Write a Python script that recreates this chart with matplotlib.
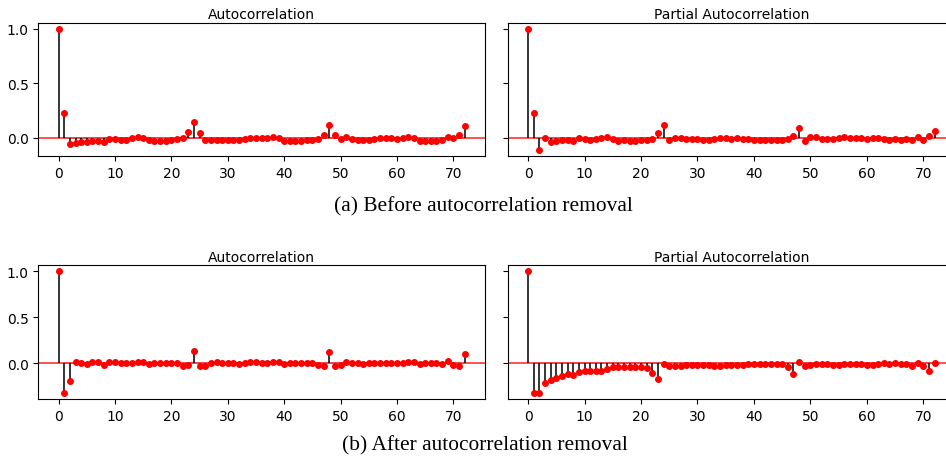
import matplotlib
matplotlib.use("Agg")
import matplotlib.pyplot as plt
import numpy as np

lags = list(range(73))

top_acf = [1.0, 0.225, -0.058, -0.043, -0.04, -0.04, -0.03, -0.025, -0.034, -0.01,
           -0.006, -0.015, -0.015, -0.003, 0.01, 0.0, -0.02, -0.027, -0.027, -0.03,
           -0.02, -0.012, -0.003, 0.052, 0.146, 0.043, -0.015, -0.015, -0.015, -0.018,
           -0.018, -0.021, -0.023, -0.012, 0.0, 0.003, -0.003, 0.0, 0.006, -0.003,
           -0.024, -0.027, -0.027, -0.027, -0.021, -0.015, -0.006, 0.027, 0.122, 0.027,
           -0.006, 0.006, -0.009, -0.021, -0.021, -0.018, -0.006, 0.0, 0.0, 0.0,
           -0.006, 0.003, 0.012, -0.003, -0.024, -0.024, -0.027, -0.024, -0.021, 0.006,
           -0.003, 0.027, 0.11]

top_pacf = [1.0, 0.225, -0.11, -0.003, -0.04, -0.027, -0.02, -0.02, -0.03, 0.0,
            -0.012, -0.015, -0.012, -0.003, 0.01, -0.009, -0.024, -0.021, -0.024, -0.027,
            -0.018, -0.015, -0.009, 0.046, 0.122, -0.02, 0.0, -0.003, -0.006, -0.009,
            -0.012, -0.015, -0.015, -0.009, -0.003, -0.003, -0.009, -0.003, -0.006, -0.012,
            -0.021, -0.018, -0.021, -0.018, -0.015, -0.015, -0.009, 0.021, 0.088, -0.03,
            0.012, 0.009, -0.006, -0.009, -0.009, -0.003, 0.006, -0.003, -0.003, -0.003,
            -0.009, 0.0, 0.003, -0.006, -0.015, -0.006, -0.015, -0.009, -0.015, 0.009,
            -0.015, 0.018, 0.067]

bottom_acf = [1.0, -0.32, -0.19, 0.007, 0.004, -0.011, 0.007, 0.007, -0.018, 0.015,
              0.007, -0.004, -0.004, 0.0, 0.015, 0.011, -0.011, -0.004, 0.004, -0.004,
              0.0, 0.0, -0.029, -0.025, 0.131, -0.029, -0.036, 0.004, 0.007, -0.004,
              0.004, 0.0, -0.011, 0.004, 0.007, 0.007, -0.004, 0.004, 0.007, 0.007,
              -0.015, 0.0, 0.0, -0.004, 0.0, 0.0, -0.022, -0.033, 0.124, -0.036,
              -0.022, 0.015, 0.0, -0.004, -0.007, 0.0, 0.004, 0.0, -0.004, 0.0,
              -0.004, 0.0, 0.011, 0.007, -0.015, 0.004, 0.0, 0.0, -0.015, 0.018,
              -0.022, -0.029, 0.102]

bottom_pacf = [1.0, -0.32, -0.324, -0.218, -0.189, -0.164, -0.138, -0.116, -0.131, -0.102,
               -0.087, -0.087, -0.087, -0.091, -0.065, -0.047, -0.047, -0.044, -0.04, -0.047,
               -0.047, -0.051, -0.105, -0.171, -0.015, -0.033, -0.033, -0.029, -0.025, -0.025,
               -0.018, -0.022, -0.025, -0.033, -0.033, -0.025, -0.025, -0.025, -0.022, -0.007,
               -0.015, -0.007, -0.007, -0.011, -0.015, -0.015, -0.044, -0.116, 0.011, -0.033,
               -0.025, -0.015, -0.011, -0.007, -0.018, -0.018, -0.015, -0.015, -0.015, -0.015,
               -0.022, -0.022, -0.015, 0.0, -0.011, 0.0, -0.007, -0.007, -0.029, -0.004,
               -0.033, -0.084, 0.0]

titles = ["Autocorrelation", "Partial Autocorrelation"]
captions = ["(a) Before autocorrelation removal", "(b) After autocorrelation removal"]
conf = 0.012

fig = plt.figure(figsize=(9.46, 4.6), dpi=100)
W, H = 946, 460

def add_ax(x0, x1, y0, y1, sharey=None):
    return fig.add_axes([x0 / W, 1 - y1 / H, (x1 - x0) / W, (y1 - y0) / H], sharey=sharey)

rows = [(23.5, 157.0, top_acf, top_pacf), (266.0, 400.0, bottom_acf, bottom_pacf)]

def corr_plot(ax, vals, title):
    x = np.array(lags)
    y = np.array(vals)
    ax.fill_between(x[1:], -conf, conf, color="#1f77b4", alpha=0.25, lw=0)
    ax.vlines(x, 0, y, colors="black", lw=1.1, zorder=2)
    ax.axhline(0, color="red", lw=1.2, alpha=0.8, zorder=1)
    ax.plot(x, y, marker="o", markersize=4, linestyle="None", color="red", zorder=3)
    ax.set_title(title, fontsize=10, pad=3)
    ax.set_xticks(range(0, 71, 10))
    ax.tick_params(labelsize=10)

for (y0, y1, acf_vals, pacf_vals) in rows:
    axl = add_ax(38.3, 485.0, y0, y1)
    axr = add_ax(507.7, 955.0, y0, y1, sharey=axl)
    corr_plot(axl, acf_vals, titles[0])
    corr_plot(axr, pacf_vals, titles[1])
    axr.spines["right"].set_visible(False)
    axl.set_yticks([0.0, 0.5, 1.0])
    plt.setp(axr.get_yticklabels(), visible=False)

fig.text(483 / W, 1 - 207 / H, captions[0], ha="center", va="center",
         fontsize=15.4, family="Liberation Serif")
fig.text(485 / W, 1 - 446 / H, captions[1], ha="center", va="center",
         fontsize=15.4, family="Liberation Serif")

fig.savefig("out.png", dpi=100)
